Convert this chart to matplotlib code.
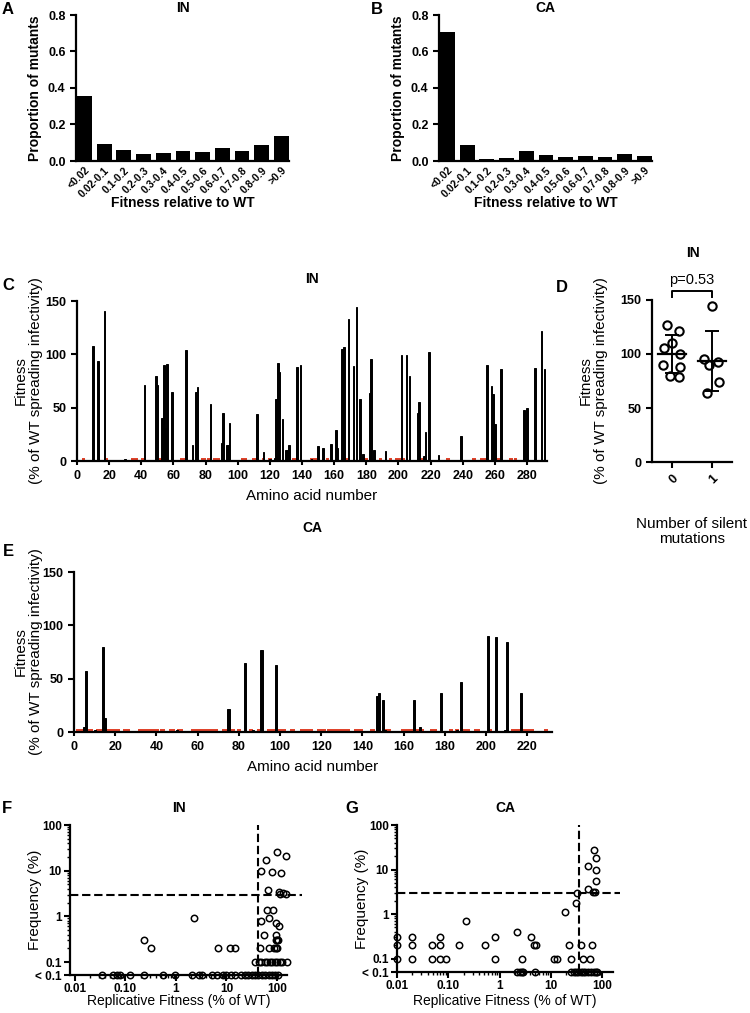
import numpy as np
import matplotlib.pyplot as plt
from matplotlib.ticker import FixedLocator, NullFormatter

plt.rcParams['font.family'] = ['Liberation Sans', 'DejaVu Sans']

W, H = 750, 1013
RED = '#e0432b'

# --- A / B: distribution of fitness values
bins = ['<0.02', '0.02-0.1', '0.1-0.2', '0.2-0.3', '0.3-0.4', '0.4-0.5',
        '0.5-0.6', '0.6-0.7', '0.7-0.8', '0.8-0.9', '>0.9']
in_prop = [0.355, 0.093, 0.061, 0.037, 0.043, 0.054, 0.049, 0.069, 0.055, 0.087, 0.138]
ca_prop = [0.705, 0.086, 0.012, 0.018, 0.056, 0.034, 0.022, 0.027, 0.022, 0.039, 0.027]

# --- C: IN fitness by residue
in_pos = [10, 13, 17, 30, 42, 49, 50, 53, 54, 55, 56, 59, 68, 72, 74, 75, 83, 90, 91,
          93, 94, 95, 112, 116, 120, 123, 124, 125, 126, 128, 130, 131, 132, 137, 139,
          146, 150, 153, 158, 161, 162, 165, 166, 169, 172, 174, 176, 178, 182, 183,
          185, 192, 202, 205, 207, 212, 213, 216, 217, 219, 225, 239, 255, 258, 259,
          260, 264, 278, 280, 285, 289, 291]
in_fit = [108, 94, 141, 2, 71, 80, 71, 40, 90, 31, 91, 65, 104, 15, 65, 69, 53, 17, 45,
          15, 15, 36, 44, 8, 2, 3, 58, 92, 83, 39, 10, 10, 15, 88, 90,
          2, 14, 12, 16, 29, 12, 105, 107, 133, 89, 144, 58, 7, 64, 96,
          10, 9, 99, 99, 80, 45, 55, 5, 27, 102, 6, 23, 90, 70, 63,
          35, 86, 48, 50, 87, 122, 86]
in_red = [4, 18, 35, 37, 41, 52, 65, 66, 78, 79, 82, 86, 88, 103, 105, 110, 111, 116,
          120, 135, 137, 146, 148, 156, 168, 180, 183, 189, 195, 199, 201, 203, 215,
          231, 247, 252, 254, 262, 270, 273]

# --- D: silent mutations
sil0 = [127, 121, 110, 106, 100, 90, 88, 80, 79]
sil1 = [144, 95, 93, 90, 74, 64]
jit0 = [-0.13, 0.18, 0.0, -0.2, 0.2, -0.22, 0.2, -0.05, 0.18]
jit1 = [0.0, -0.2, 0.15, -0.08, 0.18, -0.12]

# --- E: CA fitness by residue
ca_pos = [5, 6, 10, 14, 15, 50, 75, 83, 87, 91, 98, 147, 148, 150, 151, 165, 168,
          178, 186, 188, 201, 205, 209, 210, 217]
ca_fit = [5, 57, 2, 80, 13, 2, 22, 65, 2, 77, 63, 34, 37, 30, 2, 30, 5,
          37, 2, 47, 90, 89, 2, 84, 37]
ca_red = [2, 4, 8, 12, 13, 16, 18, 20, 21, 25, 26, 32, 33, 34, 35, 36, 38, 39, 40, 43,
          47, 48, 51, 52, 58, 60, 61, 63, 64, 66, 68, 69, 73, 77, 80, 86, 90, 95, 96,
          97, 100, 101, 102, 106, 111, 112, 113, 114, 115, 119, 120, 121, 124, 126,
          128, 130, 132, 133, 137, 139, 145, 152, 153, 160, 161, 162, 164, 166, 167,
          169, 174, 175, 183, 186, 189, 191, 195, 196, 202, 213, 215, 216, 217, 218,
          219, 221, 222, 229]

# --- F / G: fitness vs frequency in patients
f_fit = [2.3, 0.23, 0.32, 6.8, 12, 15, 47, 68, 88, 95, 102,
         49, 69, 55, 94, 63, 85, 95, 108, 97, 100, 103,
         49, 81, 120, 61, 100, 153, 66, 108, 130, 148, 117,
         37, 44, 49, 58, 63, 72, 80, 90, 100, 113, 125, 158]
f_freq = [0.9, 0.3, 0.2, 0.2, 0.2, 0.2, 0.2, 0.2, 0.2, 0.2, 0.2,
          0.8, 0.9, 0.4, 0.4, 1.4, 1.4, 0.7, 0.6, 0.3, 0.3, 0.3,
          10, 9.5, 8.8, 17, 25, 21, 3.8, 3.5, 3.2, 3.1, 3.1,
          0.1, 0.1, 0.1, 0.1, 0.1, 0.1, 0.1, 0.1, 0.1, 0.1, 0.1, 0.1]
f_low = [0.035, 0.058, 0.068, 0.077, 0.125, 0.23, 0.55, 0.97, 2.1, 2.9, 3.3, 5.2,
         6.5, 8.5, 10, 12.5, 15, 19, 23, 27, 32, 37, 43, 50, 58, 68, 80, 92, 105]
g_fit = [0.01, 0.01, 0.01, 0.02, 0.02, 0.02, 0.048, 0.048, 0.068, 0.068, 0.068, 0.09,
         0.16, 0.22, 0.51, 0.8, 0.83, 2.2, 2.7, 4.1, 4.6, 5.1, 11.3, 12.9, 18.5, 23,
         25, 31, 32, 39.5, 43, 59, 63, 54, 54, 67, 72, 69, 76, 76, 75]
g_freq = [0.3, 0.2, 0.1, 0.3, 0.2, 0.1, 0.2, 0.1, 0.3, 0.2, 0.1, 0.1,
          0.2, 0.7, 0.2, 0.3, 0.1, 0.4, 0.1, 0.3, 0.2, 0.2, 0.1, 0.1, 1.1, 0.2,
          0.1, 1.8, 3.0, 0.2, 0.1, 0.1, 0.2, 12, 3.7, 3.1, 3.1, 28, 18, 10, 5.6]
g_low = [2.2, 2.5, 2.7, 2.9, 5.0, 25, 28, 31, 34, 38, 42, 47, 53, 60, 68, 75, 80]

fig = plt.figure(figsize=(7.5, 10.13), dpi=100)


def px_axes(l, r, t, b):
    return fig.add_axes([l / W, 1 - b / H, (r - l) / W, (b - t) / H])


def style(ax, size=9):
    for s in ['top', 'right']:
        ax.spines[s].set_visible(False)
    for s in ['left', 'bottom']:
        ax.spines[s].set_linewidth(1.6)
    ax.tick_params(width=1.5, length=4, labelsize=size)


def ylab(ax, text, right_px, **kw):
    ax.set_ylabel(text, **kw)
    p = ax.get_position()
    ax.yaxis.set_label_coords((right_px / W - p.x0) / p.width, 0.5)


def xlab(ax, text, top_px, **kw):
    ax.set_xlabel(text, va='top', **kw)
    p = ax.get_position()
    ax.xaxis.set_label_coords(0.5, (1 - top_px / H - p.y0) / p.height)


def ftext(x, y, s, **kw):
    fig.text(x / W, 1 - y / H, s, ha='center', va='center', **kw)


# A and B
for (l, r), prop, name, letter, lx in [((76, 289), in_prop, 'IN', 'A', 8),
                                       ((439, 652), ca_prop, 'CA', 'B', 377)]:
    ax = px_axes(l, r, 15, 161)
    style(ax)
    ax.bar(range(len(bins)), prop, width=0.75, color='black')
    ax.set_xlim(-0.43, 10.38)
    ax.set_ylim(0, 0.8)
    ax.set_yticks([0, 0.2, 0.4, 0.6, 0.8], ['0.0', '0.2', '0.4', '0.6', '0.8'],
                  fontweight='bold')
    ax.set_xticks(range(len(bins)), bins, rotation=45, ha='right',
                  rotation_mode='anchor', fontweight='bold', fontsize=7.5)
    ax.tick_params(axis='x', length=0, pad=3)
    ylab(ax, 'Proportion of mutants', l - 34, fontsize=10, fontweight='bold')
    xlab(ax, 'Fitness relative to WT', 196, fontsize=10, fontweight='bold')
    ftext((l + r) / 2, 8, name, fontsize=10, fontweight='bold')
    ftext(lx, 9, letter, fontsize=12, fontweight='bold')

# C and E
for (l, r, t, b), pos, fit, red, xmax, name, ty, letter, ly, xtop in [
        ((77, 547, 301, 461), in_pos, in_fit, in_red, 292.5, 'IN', 279, 'C', 286, 489),
        ((74, 552, 572, 732), ca_pos, ca_fit, ca_red, 232, 'CA', 528, 'E', 551, 760)]:
    ax = px_axes(l, r, t, b)
    style(ax)
    ax.bar(red, 3.0, width=2.2, color=RED, linewidth=0)
    ax.bar(pos, fit, width=1.0, color='black', edgecolor='black', linewidth=0.7)
    ax.set_xlim(0, xmax)
    ax.set_ylim(0, 150)
    ax.set_yticks([0, 50, 100, 150], ['0', '50', '100', '150'], fontweight='bold')
    xt = list(range(0, int(xmax) - 5, 20))
    ax.set_xticks(xt, [str(v) for v in xt], fontweight='bold')
    ax.tick_params(axis='x', length=3)
    ylab(ax, 'Fitness\n(% of WT spreading infectivity)', 43, fontsize=11,
         linespacing=1.15)
    xlab(ax, 'Amino acid number', xtop, fontsize=11)
    ftext(312, ty, name, fontsize=10, fontweight='bold')
    ftext(8, ly, letter, fontsize=12, fontweight='bold')

# D
ax = px_axes(652, 732, 300, 462)
style(ax)
for i, (vals, jit) in enumerate([(sil0, jit0), (sil1, jit1)]):
    ax.plot(np.array(jit) + i, vals, 'o', mfc='none', mec='black', ms=6, mew=1.5,
            clip_on=False, zorder=3)
    m, sd = np.mean(vals), np.std(vals, ddof=1)
    ax.plot([i - 0.35, i + 0.35], [m, m], color='black', lw=1.6)
    ax.errorbar(i, m, yerr=sd, color='black', lw=1.4, capsize=5, capthick=1.4)
ax.plot([0, 0, 1, 1], [153, 158, 158, 153], color='black', lw=1.4, clip_on=False)
ax.text(0.5, 162, 'p=0.53', ha='center', va='bottom', fontsize=10.5)
ax.set_xlim(-0.5, 1.5)
ax.set_ylim(0, 150)
ax.set_yticks([0, 50, 100, 150], ['0', '50', '100', '150'], fontweight='bold')
ax.set_xticks([0, 1], ['0', '1'], rotation=45, ha='right', rotation_mode='anchor',
              fontweight='bold')
ylab(ax, 'Fitness\n(% of WT spreading infectivity)', 608, fontsize=11,
     linespacing=1.15)
xlab(ax, 'Number of silent\nmutations', 517, fontsize=11, linespacing=1.1)
ftext(693, 253, 'IN', fontsize=10, fontweight='bold')
ftext(562, 287, 'D', fontsize=12, fontweight='bold')

# F and G
for (l, r, t, b), fit, freq, low, xlim, ylow, vx, hx_end, name, letter, lx in [
        ((70, 287, 825, 975), f_fit, f_freq, f_low, (0.008, 158), 0.052, 42, 302,
         'IN', 'F', 7),
        ((397, 613, 825, 972), g_fit, g_freq, g_low, (0.01, 163), 0.05, 35, 620,
         'CA', 'G', 352)]:
    ax = px_axes(l, r, t, b)
    style(ax, size=8.5)
    ax.set_xscale('log')
    ax.set_yscale('log')
    ax.set_xlim(*xlim)
    ax.set_ylim(ylow, 100)
    ax.plot(fit, freq, 'o', mfc='none', mec='black', ms=4.6, mew=1.1,
            clip_on=False, zorder=3)
    ax.plot(low, [ylow] * len(low), 'o', mfc='none', mec='black', ms=4.6, mew=1.1,
            clip_on=False, zorder=3)
    ax.axhline(3, xmin=0, xmax=(hx_end - l) / (r - l), color='black', lw=1.5,
               dashes=(4, 1.8), clip_on=False)
    ax.axvline(vx, color='black', lw=1.5, dashes=(4, 1.8))
    ax.set_xticks([0.01, 0.1, 1, 10, 100], ['0.01', '0.10', '1', '10', '100'],
                  fontweight='bold')
    ax.set_yticks([ylow, 0.1, 1, 10, 100], ['< 0.1', '0.1', '1', '10', '100'],
                  fontweight='bold')
    xminor = [m * 10.0 ** e for e in range(-2, 3) for m in range(2, 10)
              if m * 10.0 ** e < xlim[1]]
    yminor = [m * 10.0 ** e for e in range(-1, 2) for m in range(2, 10)]
    ax.xaxis.set_minor_locator(FixedLocator(xminor))
    ax.yaxis.set_minor_locator(FixedLocator(yminor))
    ax.xaxis.set_minor_formatter(NullFormatter())
    ax.yaxis.set_minor_formatter(NullFormatter())
    ax.tick_params(which='minor', width=1.0, length=2.5)
    ax.tick_params(axis='x', which='major', pad=2)
    ax.tick_params(axis='y', which='major', pad=2)
    ylab(ax, 'Frequency (%)', l - 28, fontsize=11)
    xlab(ax, 'Replicative Fitness (% of WT)', 994, fontsize=10)
    ftext((l + r) / 2, 808, name, fontsize=10, fontweight='bold')
    ftext(lx, 808, letter, fontsize=12, fontweight='bold')

fig.savefig('out.png', dpi=100)
